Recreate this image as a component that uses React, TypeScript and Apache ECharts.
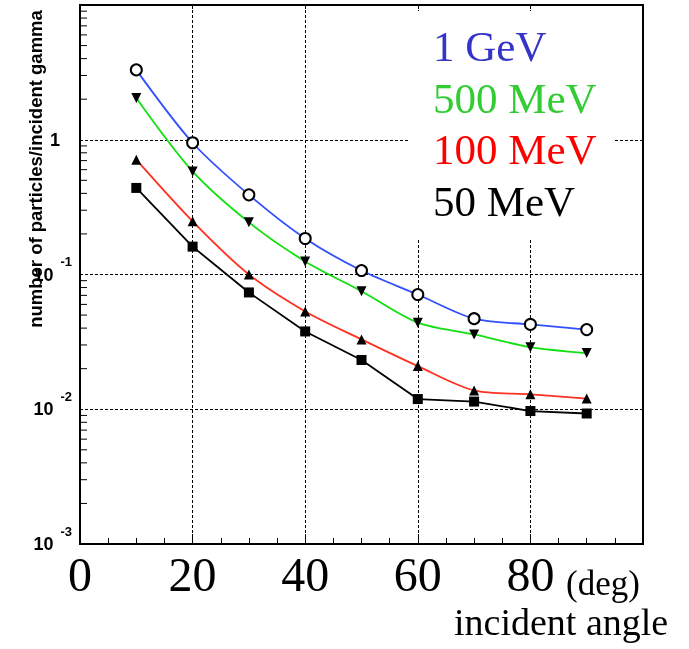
import React, { useEffect, useRef } from 'react';
import * as echarts from 'echarts';

const angles = [10, 20, 30, 40, 50, 60, 70, 80, 90];
const seriesNames = ['1 GeV', '500 MeV', '100 MeV', '50 MeV'];
const gev1 = [3.3, 0.95, 0.39, 0.185, 0.107, 0.071, 0.047, 0.0426, 0.039];
const mev500 = [2.04, 0.582, 0.244, 0.125, 0.0752, 0.0439, 0.0359, 0.0289, 0.0261];
const mev100 = [0.711, 0.248, 0.1, 0.0532, 0.033, 0.0209, 0.0138, 0.0129, 0.012];
const mev50 = [0.439, 0.161, 0.0736, 0.0378, 0.0232, 0.0119, 0.0114, 0.0097, 0.0093];
const xTickLabels = ['0', '20', '40', '60', '80'];
const yDecadeExponents = [-3, -2, -1, 0];
const minorMantissas = [2, 3, 4, 5, 6, 7, 8, 9];

const SERIF = '"Liberation Serif", "Times New Roman", serif';
const SANS = '"Liberation Sans", Arial, Helvetica, sans-serif';

export default function App() {
  const ref = useRef<HTMLDivElement>(null);
  useEffect(() => {
    const chart = echarts.init(ref.current!, null, { renderer: 'svg' });
    const allSeries = [gev1, mev500, mev100, mev50];
    const lineColors = ['#3050ff', '#10e010', '#ff3020', '#000000'];
    const textColors = ['#3434c8', '#33cc33', '#ff0000', '#000000'];
    const symbols = ['emptyCircle', 'triangle', 'triangle', 'rect'];
    const rotates = [0, 180, 0, 0];
    const sizes = [11, 10, 10, 10];
    const smooths = [0.3, 0.3, 0.3, false];

    const minorTicks: number[][] = [];
    yDecadeExponents.forEach((e) => {
      minorMantissas.forEach((m) => {
        minorTicks.push([0, m * Math.pow(10, e)]);
      });
    });

    const lineSeries = allSeries.map((vals, i) => ({
      type: 'line',
      name: seriesNames[i],
      data: angles.map((a, j) => [a, vals[j]]),
      smooth: smooths[i],
      symbol: symbols[i],
      symbolRotate: rotates[i],
      symbolSize: sizes[i],
      showAllSymbol: true,
      lineStyle: { color: lineColors[i], width: 1.8 },
      itemStyle: { color: '#000', borderColor: '#000', borderWidth: i === 0 ? 1.6 : 0 },
      z: 3,
    }));

    const legendTexts = seriesNames.map((n, i) => ({
      type: 'text',
      left: 433,
      top: 25 + i * 51.5,
      z: 20,
      style: { text: n, fill: textColors[i], font: `43px ${SERIF}` },
    }));

    chart.setOption({
      animation: false,
      grid: {
        left: 80,
        right: 46,
        top: 5,
        bottom: 105,
        show: true,
        borderColor: '#000',
        borderWidth: 2,
        backgroundColor: 'transparent',
      },
      xAxis: [
        {
          type: 'value',
          min: 0,
          max: 100,
          interval: 20,
          position: 'bottom',
          axisLine: { show: false },
          axisTick: { show: true, inside: true, length: 10, lineStyle: { color: '#000', width: 1 } },
          minorTick: { show: true, splitNumber: 4, length: 6, lineStyle: { color: '#000', width: 1 } },
          splitLine: { show: true, lineStyle: { color: '#000', width: 1, type: [3, 2] } },
          axisLabel: {
            margin: 6,
            color: '#000',
            fontSize: 48,
            fontFamily: SERIF,
            formatter: (v: number) => {
              const idx = [0, 20, 40, 60, 80].indexOf(v);
              return idx >= 0 ? xTickLabels[idx] : '';
            },
          },
        },
        {
          type: 'value',
          min: 0,
          max: 100,
          interval: 20,
          position: 'top',
          axisLine: { show: false },
          axisTick: { show: true, inside: true, length: 4, lineStyle: { color: '#000', width: 1 } },
          splitLine: { show: false },
          axisLabel: { show: false },
        },
      ],
      yAxis: {
        type: 'log',
        logBase: 10,
        min: 0.001,
        max: 10,
        axisLine: { show: false },
        axisTick: { show: false },
        splitLine: { show: true, lineStyle: { color: '#000', width: 1, type: [3, 2] } },
        axisLabel: {
          margin: 8,
          color: '#000',
          formatter: (v: number) => {
            const e = Math.round(Math.log10(v));
            if (yDecadeExponents.indexOf(e) < 0) return '';
            if (e === 0) return '{o|1}';
            return '{b|10}{s|' + e + '}';
          },
          rich: {
            o: { fontSize: 18, fontWeight: 'bold', fontFamily: SANS, color: '#000', padding: [0, 12, 0, 0] },
            b: { fontSize: 18, fontWeight: 'bold', fontFamily: SANS, color: '#000', verticalAlign: 'middle' },
            s: { fontSize: 13, fontWeight: 'bold', fontFamily: SANS, color: '#000', padding: [0, 0, 26, 7] },
          },
        },
      },
      series: [
        ...lineSeries,
        {
          type: 'custom',
          silent: true,
          clip: false,
          data: minorTicks,
          z: 4,
          renderItem: (params: any, api: any) => {
            const p = api.coord([api.value(0), api.value(1)]);
            return {
              type: 'line',
              shape: { x1: p[0], y1: p[1], x2: p[0] + 7, y2: p[1] },
              style: { stroke: '#000', lineWidth: 1 },
            };
          },
        },
      ],
      graphic: [
        {
          type: 'rect',
          z: 10,
          shape: { x: 410, y: 11, width: 205, height: 228 },
          style: { fill: '#fff' },
        },
        ...legendTexts,
        {
          type: 'text',
          z: 20,
          left: 566,
          top: 566,
          style: { text: '(deg)', fill: '#000', font: `35px ${SERIF}` },
        },
        {
          type: 'text',
          z: 20,
          left: 454,
          top: 603,
          style: { text: 'incident angle', fill: '#000', font: `38px ${SERIF}` },
        },
        {
          type: 'text',
          z: 20,
          x: 35,
          y: 169,
          rotation: Math.PI / 2,
          style: {
            text: 'number of particles/incident gamma',
            fill: '#000',
            font: `bold 18.5px ${SANS}`,
            align: 'center',
            verticalAlign: 'middle',
          },
        },
      ],
    });
    return () => chart.dispose();
  }, []);
  return <div ref={ref} style={{ position: 'fixed', left: 0, top: 0, width: 689, height: 649 }} />;
}
